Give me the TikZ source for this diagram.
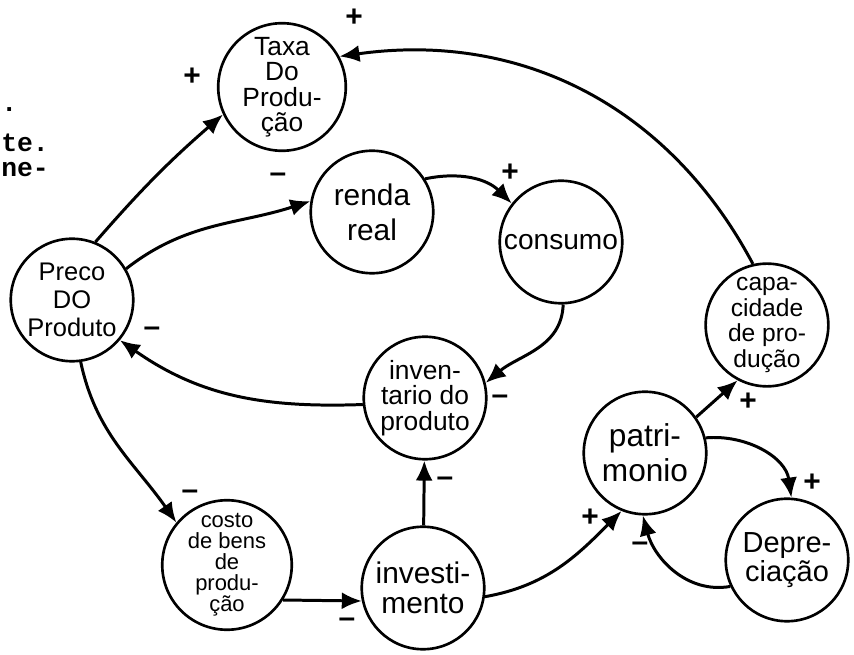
\documentclass[tikz,border=0pt]{standalone}
\usepackage{fontspec}
\setsansfont{Liberation Sans}
\setmonofont{Liberation Mono}
\usetikzlibrary{arrows.meta,positioning}
\newcommand{\fsz}[2]{\fontsize{#1}{#2}\selectfont}

\begin{document}
\begin{tikzpicture}[
  >={Latex[length=4mm,width=3.4mm]},
  var/.style={circle,draw,line width=1.5pt,minimum size=2.45cm,inner sep=0pt,align=center,font=\sffamily},
  link/.style={->,draw,line width=1.7pt},
  sgn/.style={font=\sffamily\bfseries\fsz{17}{17},inner sep=0pt},
  scrap/.style={anchor=west,font=\ttfamily\bfseries\fsz{15}{15},inner sep=0pt},
]
\useasboundingbox (0,0) rectangle (17.08,13.1);

% ---------- page scraps (left edge) ----------
\node[scrap] (dot)  at (0.02,10.9) {.};
\node[scrap] (lte)  at (0.02,10.25) {te.};
\node[scrap] (lne)  at (0.02,9.7) {ne-};

% ---------- variables ----------
\node[var,font=\sffamily\fsz{15}{14.5}] (taxa)  at (5.64,11.36) {Taxa\\Do\\Produ-\\ção};
\node[var,font=\sffamily\fsz{17}{20}]   (renda) at (7.44,8.86)  {renda\\real};
\node[var,font=\sffamily\fsz{16}{16}]   (cons)  at (11.22,8.26) {consumo};
\node[var,font=\sffamily\fsz{14.5}{16}] (preco) at (1.44,7.1)   {Preco\\DO\\Produto};
\node[var,font=\sffamily\fsz{15}{14.5}] (inv)   at (8.5,5.14)   {inven-\\tario do\\produto};
\node[var,font=\sffamily\fsz{14}{14.5}] (capac) at (15.34,6.6)  {capa-\\cidade\\de pro-\\dução};
\node[var,font=\sffamily\fsz{18}{20}]   (patr)  at (12.9,4.04)  {patri-\\monio};
\node[var,font=\sffamily\fsz{16.5}{16.5}] (depr) at (15.74,1.9) {Depre-\\ciação};
\node[var,font=\sffamily\fsz{12.5}{12}] (costo) at (4.54,1.8)   {costo\\de bens\\de\\produ-\\ção};
\node[var,font=\sffamily\fsz{17}{17}]   (invest) at (8.46,1.34) {investi-\\mento};

% ---------- links ----------
\draw[link] (preco.68) to[bend left=4] (taxa.205);
\draw[link] (capac.103) to[out=118,in=8] (taxa.28);
\draw[link] (preco.30) to[out=38,in=198] (renda.170);
\draw[link] (renda.32) to[out=12,in=135] (cons.142);
\draw[link] (cons.272) to[out=268,in=40] (inv.14);
\draw[link] (inv.186) to[out=182,in=-35] (preco.320);
\draw[link] (preco.278) to[out=-78,in=125] (costo.140);
\draw[link] (costo.-32) -- (invest.192);
\draw[link] (invest) -- (inv);
\draw[link] (invest.-8) to[out=10,in=225] (patr.248);
\draw[link] (patr.35) -- (capac.242);
\draw[link] (patr.14) to[out=5,in=98] (depr.86);
\draw[link] (depr.205) to[out=190,in=-75] (patr.268);

% ---------- polarities ----------
\node[sgn] (s1)  at (3.84,11.56) {+};
\node[sgn] (s2)  at (7.08,12.74) {+};
\node[sgn] (s3)  at (5.56,9.54)  {–};
\node[sgn] (s4)  at (10.2,9.64)  {+};
\node[sgn] (s5)  at (10.0,5.1)   {–};
\node[sgn] (s6)  at (3.04,6.46)  {–};
\node[sgn] (s7)  at (3.8,3.2)    {–};
\node[sgn] (s8)  at (6.94,0.64)  {–};
\node[sgn] (s9)  at (8.9,3.46)   {–};
\node[sgn] (s10) at (11.8,2.74)  {+};
\node[sgn] (s11) at (14.96,5.06) {+};
\node[sgn] (s12) at (16.24,3.44) {+};
\node[sgn] (s13) at (12.8,2.16)  {–};

\end{tikzpicture}
\end{document}
